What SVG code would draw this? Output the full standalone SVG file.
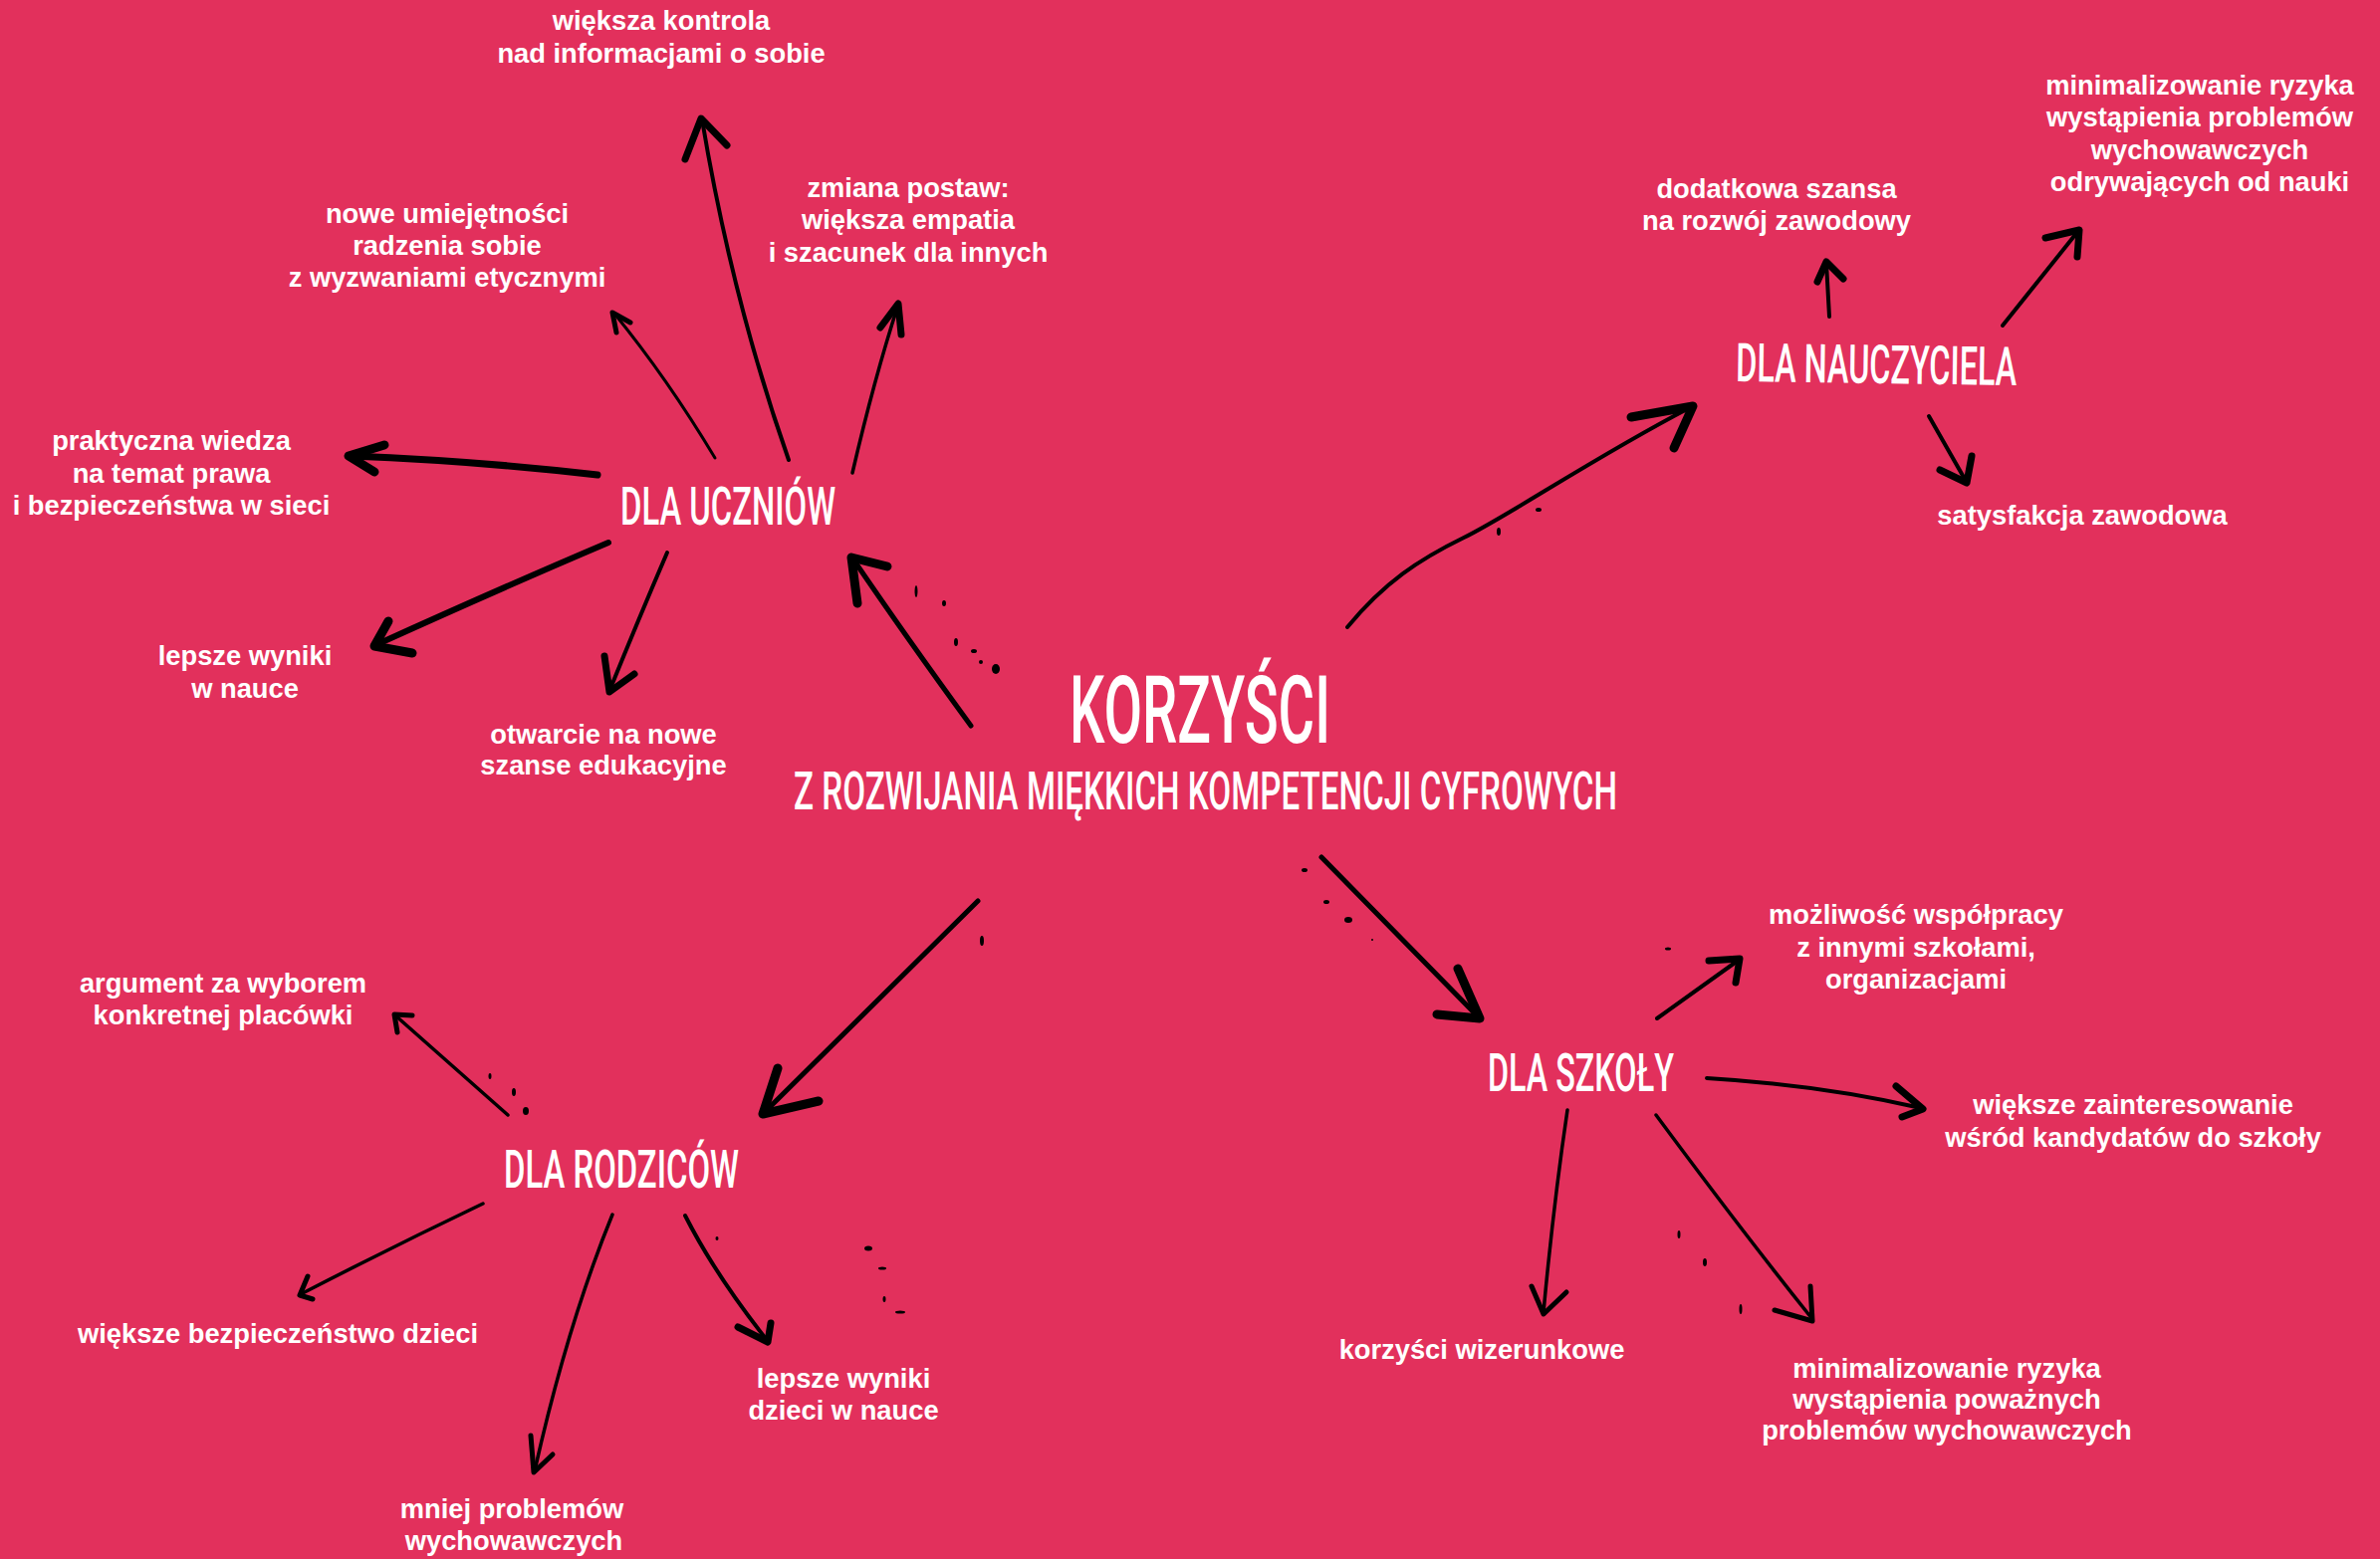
<svg xmlns="http://www.w3.org/2000/svg" width="2390" height="1566" viewBox="0 0 2390 1566">
<style>
.bg{fill:#E2305C}
.hd{font-family:Roboto,"Liberation Sans",sans-serif;font-weight:500;fill:#fff}
.tx{font-family:"Liberation Sans",Arial,sans-serif;font-weight:700;font-size:27.3px;fill:#fff;text-anchor:middle}
.ln{fill:none;stroke:#000;stroke-linecap:round;stroke-linejoin:round}
.ah{fill:none;stroke:#000;stroke-linecap:round;stroke-linejoin:round;stroke-width:7}
.ahb{fill:none;stroke:#000;stroke-linecap:round;stroke-linejoin:round;stroke-width:9}
.sp{fill:#000}
</style>
<rect class="bg" x="0" y="0" width="2390" height="1566"/>

<g id="connectors">
  <!-- central arrows -->
  <path class="ln" stroke-width="5" d="M975,729 Q910,640 857,562"/>
  <path class="ahb" d="M861,606 L855,560 L891,569"/>
  <path class="ln" stroke-width="4" d="M1353,630 C1390,585 1425,562 1470,540 S1600,460 1696,410"/>
  <path class="ahb" d="M1638,419 L1700,408 L1681,450"/>
  <path class="ln" stroke-width="5" d="M1327,861 L1483,1020"/>
  <path class="ahb" d="M1464,973 L1486,1023 L1443,1019"/>
  <path class="ln" stroke-width="5" d="M982,905 L768,1117"/>
  <path class="ahb" d="M781,1073 L766,1119 L822,1106"/>
  <!-- DLA UCZNIÓW -->
  <path class="ln" stroke-width="4" d="M792,462 Q735,300 705,120"/>
  <path class="ah" d="M688,160 L704,119 L730,146"/>
  <path class="ln" stroke-width="3" d="M718,460 Q670,380 617,315"/>
  <path class="ln" stroke-width="5" d="M619,334 L615,314 L633,324"/>
  <path class="ln" stroke-width="3.5" d="M856,475 Q878,380 902,306"/>
  <path class="ah" d="M884,329 L902,305 L905,336"/>
  <path class="ln" stroke-width="7" d="M600,477 Q480,463 352,458"/>
  <path class="ahb" d="M386,447 L350,458 L376,474"/>
  <path class="ln" stroke-width="6" d="M611,545 Q505,590 377,648"/>
  <path class="ahb" d="M390,624 L376,649 L414,656"/>
  <path class="ln" stroke-width="4" d="M670,555 Q642,620 612,694"/>
  <path class="ah" d="M607,659 L612,695 L637,677"/>
  <!-- DLA NAUCZYCIELA -->
  <path class="ln" stroke-width="4" d="M1837,318 L1834,264"/>
  <path class="ah" d="M1825,283 L1834,263 L1851,280"/>
  <path class="ln" stroke-width="4" d="M2011,327 L2087,232"/>
  <path class="ah" d="M2054,239 L2088,231 L2086,258"/>
  <path class="ln" stroke-width="4" d="M1937,418 L1974,483"/>
  <path class="ah" d="M1948,472 L1975,485 L1980,458"/>
  <!-- DLA RODZICÓW -->
  <path class="ln" stroke-width="3.5" d="M510,1120 L397,1020"/>
  <path class="ln" stroke-width="5" d="M414,1020 L396,1019 L399,1037"/>
  <path class="ln" stroke-width="3.5" d="M485,1209 Q395,1252 302,1300"/>
  <path class="ln" stroke-width="5" d="M309,1282 L301,1301 L314,1305"/>
  <path class="ln" stroke-width="3.5" d="M615,1220 Q570,1330 537,1477"/>
  <path class="ln" stroke-width="5" d="M533,1442 L536,1479 L555,1461"/>
  <path class="ln" stroke-width="4" d="M688,1221 Q718,1280 770,1346"/>
  <path class="ah" d="M741,1333 L771,1348 L774,1329"/>
  <!-- DLA SZKOŁY -->
  <path class="ln" stroke-width="4" d="M1664,1023 L1745,965"/>
  <path class="ah" d="M1716,965 L1747,963 L1743,987"/>
  <path class="ln" stroke-width="4" d="M1714,1083 Q1830,1090 1929,1113"/>
  <path class="ah" d="M1904,1091 L1931,1114 L1910,1122"/>
  <path class="ln" stroke-width="3.5" d="M1574,1115 Q1560,1210 1550,1318"/>
  <path class="ln" stroke-width="5" d="M1538,1292 L1550,1320 L1573,1298"/>
  <path class="ln" stroke-width="3.5" d="M1663,1120 Q1748,1235 1820,1325"/>
  <path class="ln" stroke-width="5" d="M1782,1316 L1820,1327 L1818,1292"/>
  <!-- splatter -->
  <ellipse class="sp" cx="920" cy="594" rx="1.5" ry="6"/>
  <ellipse class="sp" cx="948" cy="606" rx="2" ry="3"/>
  <ellipse class="sp" cx="960" cy="645" rx="2" ry="4"/>
  <ellipse class="sp" cx="978" cy="654" rx="3" ry="2"/>
  <ellipse class="sp" cx="1000" cy="672" rx="4" ry="5"/>
  <ellipse class="sp" cx="985" cy="665" rx="2" ry="2"/>
  <ellipse class="sp" cx="986" cy="945" rx="2" ry="5"/>
  <ellipse class="sp" cx="1505" cy="534" rx="2" ry="4"/>
  <ellipse class="sp" cx="1545" cy="512" rx="3" ry="2"/>
  <ellipse class="sp" cx="1310" cy="874" rx="3" ry="2"/>
  <ellipse class="sp" cx="1332" cy="906" rx="3" ry="2"/>
  <ellipse class="sp" cx="1354" cy="924" rx="4" ry="3"/>
  <ellipse class="sp" cx="1378" cy="944" rx="1" ry="1"/>
  <ellipse class="sp" cx="1675" cy="953" rx="3" ry="1.5"/>
  <ellipse class="sp" cx="492" cy="1081" rx="1.5" ry="3"/>
  <ellipse class="sp" cx="516" cy="1097" rx="2" ry="4"/>
  <ellipse class="sp" cx="528" cy="1116" rx="3" ry="4"/>
  <ellipse class="sp" cx="720" cy="1244" rx="1.5" ry="2"/>
  <ellipse class="sp" cx="872" cy="1254" rx="4" ry="2.5"/>
  <ellipse class="sp" cx="886" cy="1274" rx="4" ry="1.5"/>
  <ellipse class="sp" cx="888" cy="1305" rx="1.5" ry="3"/>
  <ellipse class="sp" cx="904" cy="1318" rx="5" ry="1.5"/>
  <ellipse class="sp" cx="1686" cy="1240" rx="1.5" ry="4"/>
  <ellipse class="sp" cx="1712" cy="1268" rx="2" ry="4"/>
  <ellipse class="sp" cx="1748" cy="1315" rx="1.5" ry="5"/>
</g>

<g id="title">
  <text class="hd" x="1074" y="746" font-size="94" textLength="262" lengthAdjust="spacingAndGlyphs">KORZYŚCI</text>
  <text class="hd" x="797" y="813" font-size="54" textLength="827" lengthAdjust="spacingAndGlyphs">Z ROZWIJANIA MIĘKKICH KOMPETENCJI CYFROWYCH</text>
</g>

<g id="node-uczniow">
  <text class="hd" x="623" y="527" font-size="54" textLength="216" lengthAdjust="spacingAndGlyphs">DLA UCZNIÓW</text>
</g>
<g id="node-nauczyciela">
  <text class="hd" x="1743" y="383" font-size="54" textLength="282" lengthAdjust="spacingAndGlyphs" transform="rotate(0.8 1743 383)">DLA NAUCZYCIELA</text>
</g>
<g id="node-szkoly">
  <text class="hd" x="1494" y="1096" font-size="54" textLength="187" lengthAdjust="spacingAndGlyphs">DLA SZKOŁY</text>
</g>
<g id="node-rodzicow">
  <text class="hd" x="506" y="1193" font-size="54" textLength="236" lengthAdjust="spacingAndGlyphs">DLA RODZICÓW</text>
</g>

<g id="u1"><text class="tx"><tspan x="664" y="30">większa kontrola</tspan><tspan x="664" y="63">nad informacjami o sobie</tspan></text></g>
<g id="u2"><text class="tx"><tspan x="449" y="224">nowe umiejętności</tspan><tspan x="449" y="256">radzenia sobie</tspan><tspan x="449" y="288">z wyzwaniami etycznymi</tspan></text></g>
<g id="u3"><text class="tx"><tspan x="912" y="198">zmiana postaw:</tspan><tspan x="912" y="230">większa empatia</tspan><tspan x="912" y="263">i szacunek dla innych</tspan></text></g>
<g id="u4"><text class="tx"><tspan x="172" y="452">praktyczna wiedza</tspan><tspan x="172" y="485">na temat prawa</tspan><tspan x="172" y="517">i bezpieczeństwa w sieci</tspan></text></g>
<g id="u5"><text class="tx"><tspan x="246" y="668">lepsze wyniki</tspan><tspan x="246" y="701">w nauce</tspan></text></g>
<g id="u6"><text class="tx"><tspan x="606" y="747">otwarcie na nowe</tspan><tspan x="606" y="778">szanse edukacyjne</tspan></text></g>

<g id="n1"><text class="tx"><tspan x="1784" y="199">dodatkowa szansa</tspan><tspan x="1784" y="231">na rozwój zawodowy</tspan></text></g>
<g id="n2"><text class="tx"><tspan x="2209" y="95">minimalizowanie ryzyka</tspan><tspan x="2209" y="127">wystąpienia problemów</tspan><tspan x="2209" y="160">wychowawczych</tspan><tspan x="2209" y="192">odrywających od nauki</tspan></text></g>
<g id="n3"><text class="tx"><tspan x="2091" y="527">satysfakcja zawodowa</tspan></text></g>

<g id="r1"><text class="tx"><tspan x="224" y="997">argument za wyborem</tspan><tspan x="224" y="1029">konkretnej placówki</tspan></text></g>
<g id="r2"><text class="tx"><tspan x="279" y="1349">większe bezpieczeństwo dzieci</tspan></text></g>
<g id="r3"><text class="tx"><tspan x="514" y="1525">mniej problemów</tspan><tspan x="516" y="1557">wychowawczych</tspan></text></g>
<g id="r4"><text class="tx"><tspan x="847" y="1394">lepsze wyniki</tspan><tspan x="847" y="1426">dzieci w nauce</tspan></text></g>

<g id="s1"><text class="tx"><tspan x="1924" y="928">możliwość współpracy</tspan><tspan x="1924" y="961">z innymi szkołami,</tspan><tspan x="1924" y="993">organizacjami</tspan></text></g>
<g id="s2"><text class="tx"><tspan x="2142" y="1119">większe zainteresowanie</tspan><tspan x="2142" y="1152">wśród kandydatów do szkoły</tspan></text></g>
<g id="s3"><text class="tx"><tspan x="1488" y="1365">korzyści wizerunkowe</tspan></text></g>
<g id="s4"><text class="tx"><tspan x="1955" y="1384">minimalizowanie ryzyka</tspan><tspan x="1955" y="1415">wystąpienia poważnych</tspan><tspan x="1955" y="1446">problemów wychowawczych</tspan></text></g>
</svg>
